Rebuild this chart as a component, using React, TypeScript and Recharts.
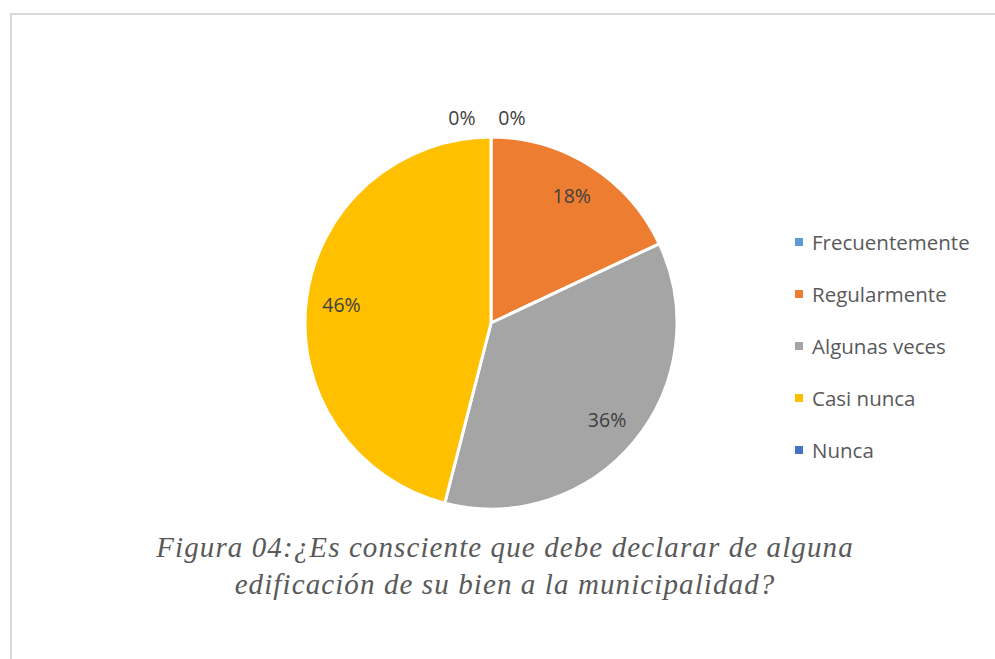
import { PieChart, Pie, Cell, Legend } from "recharts"

const categories = ["Frecuentemente", "Regularmente", "Algunas veces", "Casi nunca", "Nunca"]
const percents = [0, 18, 36, 46, 0]
const colors = ["#5B9BD5", "#ED7D31", "#A5A5A5", "#FFC000", "#4472C4"]

const data = categories.map((name, i) => ({ name, value: percents[i] }))

const RAD = Math.PI / 180

function renderLabel(props: any) {
    const { cx, cy, midAngle, outerRadius, value, index } = props
    let x: number
    let y: number
    if (value === 0) {
        // Excel pushes empty slices outside, side by side above the top
        const r = outerRadius + 20
        x = cx + (index === 0 ? 21 : -29)
        y = cy - r
    } else {
        const r = outerRadius * 0.81
        x = cx + r * Math.cos(-midAngle * RAD)
        y = cy + r * Math.sin(-midAngle * RAD)
    }
    return (
        <text
            x={x}
            y={y}
            fill="#404040"
            fontSize={19.5}
            fontFamily="'Open Sans', sans-serif"
            textAnchor="middle"
            dominantBaseline="central"
        >
            {value}%
        </text>
    )
}

function LegendList({ payload }: any) {
    // keep the data order (recharts sorts legend items by name)
    const items = [...(payload || [])].sort(
        (a: any, b: any) => categories.indexOf(a.value) - categories.indexOf(b.value)
    )
    return (
        <div style={{ fontFamily: "'Open Sans', sans-serif", fontSize: 20.5, color: "#595959" }}>
            {items.map((p: any) => (
                <div key={p.value} style={{ display: "flex", alignItems: "center", height: 52 }}>
                    <span style={{ width: 8, height: 8, background: p.color, marginRight: 9 }} />
                    <span>{p.value}</span>
                </div>
            ))}
        </div>
    )
}

export default function App() {
    return (
        <div style={{ position: "fixed", left: 0, top: 0, width: 995, height: 659, background: "#fff", overflow: "hidden" }}>
            <div
                style={{
                    position: "absolute",
                    left: 10,
                    top: 13,
                    width: 1100,
                    height: 800,
                    border: "2px solid #d9d9d9",
                }}
            />
            <div style={{ position: "absolute", left: 0, top: 0 }}>
                <PieChart width={995} height={659} margin={{ top: 0, right: 0, bottom: 0, left: 0 }}>
                    <Pie
                        data={data}
                        dataKey="value"
                        nameKey="name"
                        cx={491}
                        cy={323}
                        outerRadius={186}
                        startAngle={90}
                        endAngle={-270}
                        stroke="#ffffff"
                        strokeWidth={3}
                        label={renderLabel}
                        labelLine={false}
                        isAnimationActive={false}
                    >
                        {data.map((d, i) => (
                            <Cell key={d.name} fill={colors[i]} />
                        ))}
                    </Pie>
                    <Legend
                        layout="vertical"
                        align="right"
                        verticalAlign="top"
                        content={<LegendList />}
                        wrapperStyle={{ left: 795, top: 216, width: 200 }}
                    />
                </PieChart>
            </div>
            <div
                style={{
                    position: "absolute",
                    left: 0,
                    top: 529,
                    width: 1010,
                    textAlign: "center",
                    fontFamily: "'Liberation Serif', serif",
                    fontStyle: "italic",
                    fontSize: 29,
                    letterSpacing: "1.1px",
                    lineHeight: "37px",
                    color: "#595959",
                }}
            >
                Figura 04:¿Es consciente que debe declarar de alguna
                <br />
                edificación de su bien a la municipalidad?
            </div>
        </div>
    )
}
